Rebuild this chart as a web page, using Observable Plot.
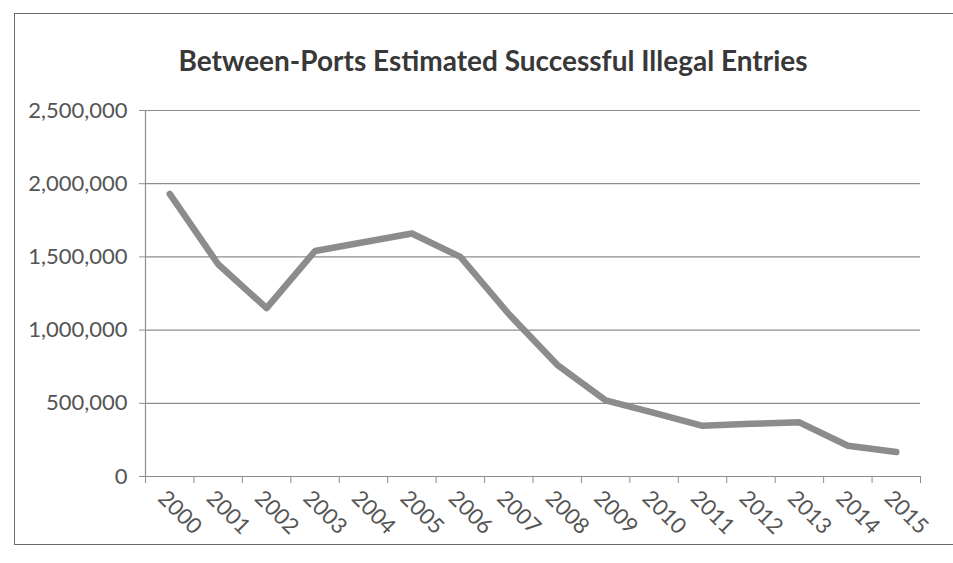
<!DOCTYPE html>
<html>
<head>
<meta charset="utf-8">
<script src="https://cdn.jsdelivr.net/npm/d3@7"></script>
<script src="https://cdn.jsdelivr.net/npm/@observablehq/plot@0.6"></script>
<style>
  body { margin: 0; background: #fff; }
  #wrap { position: relative; width: 953px; height: 563px; overflow: hidden; background: #fff; }
  #frame { position: absolute; left: 14px; top: 13px; width: 1000px; height: 532px; border: 1.5px solid #6a6a6a; border-right: none; box-sizing: border-box; }
  #title { position: absolute; left: 0; top: 42px; width: 986px; text-align: center; font-family: Lato, "Open Sans", sans-serif; font-weight: 700; font-size: 28px; line-height: 36px; color: #383838; }
  #chart { position: absolute; left: 0; top: 90px; }
  #chart svg text { fill: #555; }
</style>
</head>
<body>
<div id="wrap">
  <div id="frame"></div>
  <div id="title">Between-Ports Estimated Successful Illegal Entries</div>
  <div id="chart"></div>
</div>
<script>
const years = [2000, 2001, 2002, 2003, 2004, 2005, 2006, 2007, 2008, 2009, 2010, 2011, 2012, 2013, 2014, 2015];
const entries = [1930000, 1450000, 1150000, 1540000, 1600000, 1660000, 1500000, 1110000, 763000, 520000, 435000, 346000, 360000, 370000, 210000, 167000];
const yTicks = [0, 500000, 1000000, 1500000, 2000000, 2500000];

const boundaries = [years[0] - 0.5, ...years.map(y => y + 0.5)];
const gridColor = "#8e8e8e";

const chart = Plot.plot({
  width: 953,
  height: 473,
  marginLeft: 145,
  marginRight: 33,
  marginTop: 20,
  marginBottom: 87,
  style: { fontFamily: "Lato, 'Open Sans', sans-serif", fontSize: "22px", background: "transparent" },
  x: { type: "linear", domain: [years[0] - 0.5, years[years.length - 1] + 0.5], axis: null },
  y: { domain: [0, 2500000], axis: null },
  marks: [
    Plot.gridY(yTicks, { stroke: gridColor, strokeOpacity: 1, strokeWidth: 1.2 }),
    Plot.axisY(yTicks, { tickSize: 6, tickPadding: 12, tickFormat: d3.format(","), stroke: gridColor, label: null, fontSize: 22 }),
    Plot.ruleX([years[0] - 0.5], { stroke: gridColor, strokeWidth: 1.2 }),
    Plot.axisX(boundaries, { tickSize: 7, tickFormat: () => "", stroke: gridColor, label: null }),
    Plot.axisX(years, { tickSize: 0, tickPadding: 18, tickRotate: 45, tickFormat: d => String(d), label: null, fontSize: 22, dx: -8 }),
    Plot.line(years, { x: d => d, y: (d, i) => entries[i], stroke: "#8c8c8c", strokeWidth: 6.5, strokeLinecap: "round", strokeLinejoin: "round" })
  ]
});
document.getElementById("chart").appendChild(chart);
</script>
</body>
</html>
